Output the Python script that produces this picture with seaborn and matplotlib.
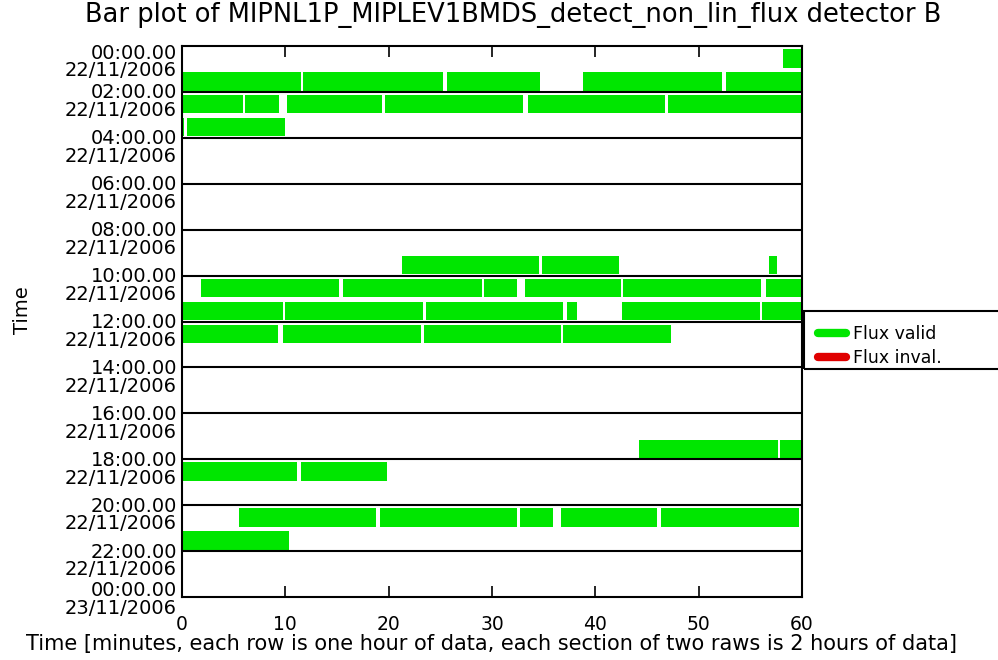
import matplotlib
matplotlib.use("Agg")
import matplotlib.pyplot as plt
from matplotlib.lines import Line2D
from matplotlib.patches import Rectangle
import pandas as pd
import seaborn as sns

# segmentos validos: hora (linha), minuto inicial, minuto final
seg_hour = [0,
            1, 1, 1, 1, 1,
            2, 2, 2, 2, 2, 2,
            3, 3,
            9, 9, 9,
            10, 10, 10, 10, 10, 10,
            11, 11, 11, 11, 11, 11,
            12, 12, 12, 12,
            17, 17,
            18, 18,
            20, 20, 20, 20, 20,
            21]
seg_start = [58.2,
             0.0, 11.7, 25.6, 38.8, 52.6,
             0.0, 6.1, 10.2, 19.6, 33.5, 47.0,
             0.0, 0.5,
             21.3, 34.8, 56.8,
             1.8, 15.6, 29.2, 33.2, 42.7, 56.5,
             0.0, 10.0, 23.6, 37.3, 42.6, 56.1,
             0.0, 9.8, 23.4, 36.9,
             44.2, 57.9,
             0.0, 11.5,
             5.5, 19.2, 32.7, 36.7, 46.4,
             0.0]
seg_end = [60.0,
           11.5, 25.3, 34.6, 52.3, 60.0,
           5.9, 9.4, 19.4, 33.0, 46.7, 60.0,
           0.2, 10.0,
           34.5, 42.3, 57.6,
           15.2, 29.0, 32.4, 42.5, 56.0, 60.0,
           9.8, 23.3, 36.9, 38.2, 55.9, 60.0,
           9.3, 23.1, 36.7, 47.3,
           57.7, 60.0,
           11.1, 19.8,
           18.8, 32.4, 35.9, 46.0, 59.7,
           10.4]

# rotulos do eixo y (a cada 2 horas)
tick_hours = [0, 2, 4, 6, 8, 10, 12, 14, 16, 18, 20, 22, 24]
tick_times = ["00:00.00", "02:00.00", "04:00.00", "06:00.00", "08:00.00", "10:00.00",
              "12:00.00", "14:00.00", "16:00.00", "18:00.00", "20:00.00", "22:00.00",
              "00:00.00"]
tick_dates = ["22/11/2006"] * 12 + ["23/11/2006"]
x_ticks = [0, 10, 20, 30, 40, 50, 60]

df = pd.DataFrame({"hour": seg_hour, "start": seg_start, "end": seg_end})
df["dur"] = df["end"] - df["start"]

sns.set_style("white")
plt.rcParams["font.family"] = ["DejaVu Sans"]
plt.rcParams["text.color"] = "black"
plt.rcParams["axes.labelcolor"] = "black"
plt.rcParams["xtick.color"] = "black"

green = "#00e600"
red = "#e00000"

fig = plt.figure(figsize=(9.98, 6.60), dpi=100)
ax = fig.add_axes([182 / 998, 1 - 597 / 660, 620 / 998, 551 / 660])

ax.barh(df["hour"] + 0.54, df["dur"], left=df["start"], height=0.8,
        color=green, edgecolor="none", zorder=2)

# linhas separando secoes de 2 horas
for h in tick_hours[1:-1]:
    ax.axhline(h, color="black", lw=1.5, zorder=3)

ax.set_xlim(0, 60)
ax.set_ylim(24, 0)
ax.set_xticks(x_ticks)
ax.set_xticklabels([str(t) for t in x_ticks], fontsize=13.5)
ax.tick_params(axis="x", direction="in", top=True, bottom=True, length=8, width=1.2,
               pad=13)
ax.set_yticks([])
for s in ax.spines.values():
    s.set_color("black")
    s.set_linewidth(1.5)

for h, t, d in zip(tick_hours, tick_times, tick_dates):
    y = min(max(h + 0.43, 0.7), 24.1)
    ax.text(-0.008, y, t + "\n" + d, transform=ax.get_yaxis_transform(),
            ha="right", va="center", fontsize=14, linespacing=0.92, clip_on=False)

ax.set_xlabel("Time [minutes, each row is one hour of data, each section of two raws is 2 hours of data]",
              fontsize=15, labelpad=0)
fig.text(22 / 998, 1 - 310 / 660, "Time", rotation=90, ha="center", va="center", fontsize=14)
fig.text(513 / 998, 1 - 15 / 660,
         "Bar plot of MIPNL1P_MIPLEV1BMDS_detect_non_lin_flux detector B",
         ha="center", va="center", fontsize=18.5)

# legenda
fig.patches.append(Rectangle((804 / 998, 1 - 369 / 660), 200 / 998, 58 / 660,
                             transform=fig.transFigure, fill=False, edgecolor="black",
                             lw=1.5))
handles = [Line2D([], [], color=green, lw=6), Line2D([], [], color=red, lw=6)]
fig.legend(handles, ["Flux valid", "Flux inval."], loc="upper left",
           bbox_to_anchor=(806 / 998, 1 - 313 / 660), frameon=False, fontsize=12.5,
           handlelength=1.6, handletextpad=0.4, labelspacing=0.35, borderpad=0.2)

fig.savefig("out.png", dpi=100)
